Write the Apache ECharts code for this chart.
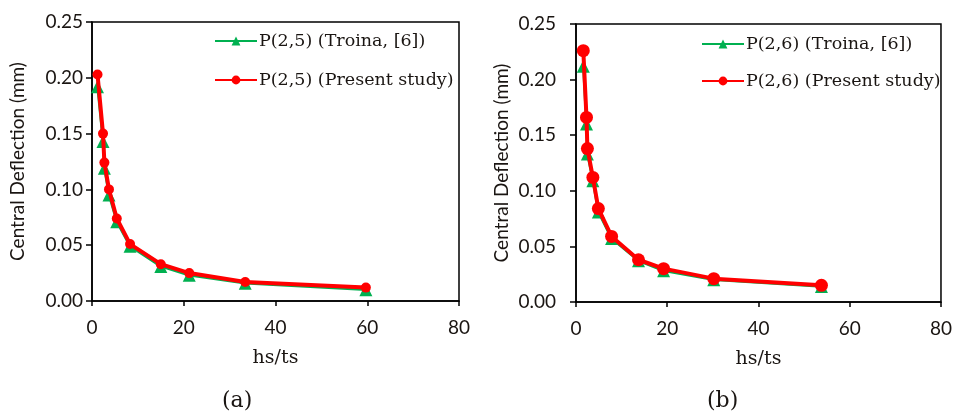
<!DOCTYPE html>
<html>
<head>
<meta charset="utf-8">
<script src="https://cdn.jsdelivr.net/npm/echarts@6/dist/echarts.min.js"></script>
<style>
  html, body { margin: 0; padding: 0; background: #ffffff; }
  #chart { width: 955px; height: 413px; }
</style>
</head>
<body>
<div id="chart"></div>
<script>
// Panel (a): P(2,5)
const ratioA = [1.2, 2.4, 2.7, 3.7, 5.4, 8.3, 15.0, 21.2, 33.4, 59.7];
const troinaA = [0.192, 0.143, 0.119, 0.095, 0.071, 0.049, 0.031, 0.023, 0.016, 0.010];
const presentA = [0.203, 0.150, 0.124, 0.100, 0.074, 0.051, 0.033, 0.025, 0.017, 0.012];

// Panel (b): P(2,6)
const ratioB = [1.6, 2.3, 2.5, 3.7, 4.9, 7.8, 13.7, 19.2, 30.2, 53.8];
const troinaB = [0.212, 0.160, 0.133, 0.109, 0.081, 0.057, 0.037, 0.028, 0.020, 0.014];
const presentB = [0.226, 0.166, 0.138, 0.112, 0.084, 0.059, 0.038, 0.030, 0.021, 0.015];

const xTicks = [0, 20, 40, 60, 80];
const yTicks = ['0.00', '0.05', '0.10', '0.15', '0.20', '0.25'];

const namesA = ['P(2,5) (Troina, [6])', 'P(2,5) (Present study)'];
const namesB = ['P(2,6) (Troina, [6])', 'P(2,6) (Present study)'];

const GREEN = '#00B050';
const RED = '#FF0000';
const INK = '#1a1512';
const SERIF = '"DejaVu Serif", serif';
const SANS = 'Lato, sans-serif';

const pairs = (xs, ys) => xs.map((x, i) => [x, ys[i]]);

function xAxisFor(gridIndex) {
  return {
    type: 'value', gridIndex, min: 0, max: 80, interval: 20,
    name: 'hs/ts', nameLocation: 'middle', nameGap: 48,
    nameTextStyle: { fontFamily: SERIF, fontSize: 19, color: INK },
    axisLine: { show: true, lineStyle: { color: '#000', width: 1.5 } },
    axisTick: { show: true, length: 5, lineStyle: { color: '#000', width: 1.5 } },
    axisLabel: { margin: 17, fontFamily: SANS, fontSize: 19, color: INK,
      formatter: v => xTicks.includes(v) ? String(v) : '' },
    splitLine: { show: false }
  };
}

function yAxisFor(gridIndex, labelMargin) {
  return {
    type: 'value', gridIndex, min: 0, max: 0.25, interval: 0.05,
    name: 'Central Deflection (mm)', nameLocation: 'middle', nameGap: 65,
    nameTextStyle: { fontFamily: SANS, fontSize: 19, color: INK },
    axisLine: { show: true, lineStyle: { color: '#000', width: 1.5 } },
    axisTick: { show: true, length: 6, lineStyle: { color: '#000', width: 1.5 } },
    axisLabel: { margin: labelMargin, fontFamily: SANS, fontSize: 19, color: INK,
      formatter: v => yTicks[Math.round(v / 0.05)] },
    splitLine: { show: false }
  };
}

function troinaSeries(name, idx, xs, ys) {
  return {
    name, type: 'line', xAxisIndex: idx, yAxisIndex: idx,
    data: pairs(xs, ys), symbol: 'triangle', symbolSize: 13,
    lineStyle: { color: GREEN, width: 2.5 },
    itemStyle: { color: GREEN }, z: 2
  };
}

function presentSeries(name, idx, xs, ys, size) {
  return {
    name, type: 'line', xAxisIndex: idx, yAxisIndex: idx,
    data: pairs(xs, ys), symbol: 'circle', symbolSize: size,
    lineStyle: { color: RED, width: 4 },
    itemStyle: { color: RED }, z: 3
  };
}

function legendFor(names, left, top, gap) {
  return {
    data: names, left, top, orient: 'vertical', itemGap: gap,
    itemWidth: 42, itemHeight: 11,
    textStyle: { fontFamily: SERIF, fontSize: 17.5, color: INK, padding: [0, 0, 0, -3] }
  };
}

const chart = echarts.init(document.getElementById('chart'), null, { renderer: 'canvas' });
chart.setOption({
  backgroundColor: '#ffffff',
  animation: false,
  grid: [
    { left: 92, top: 22, width: 367, height: 279, show: true, borderColor: '#000', borderWidth: 1.5 },
    { left: 576, top: 24, width: 366, height: 278, show: true, borderColor: '#000', borderWidth: 1.5 }
  ],
  legend: [legendFor(namesA, 209, 27, 21), legendFor(namesB, 696, 30, 19)],
  xAxis: [xAxisFor(0), xAxisFor(1)],
  yAxis: [yAxisFor(0, 9), yAxisFor(1, 20)],
  series: [
    troinaSeries(namesA[0], 0, ratioA, troinaA),
    presentSeries(namesA[1], 0, ratioA, presentA, 10),
    troinaSeries(namesB[0], 1, ratioB, troinaB),
    presentSeries(namesB[1], 1, ratioB, presentB, 13)
  ],
  graphic: [
    { type: 'text', left: 222, top: 390, style: { text: '(a)', font: '22px ' + SERIF, fill: INK } },
    { type: 'text', left: 707, top: 390, style: { text: '(b)', font: '22px ' + SERIF, fill: INK } }
  ]
});
</script>
</body>
</html>
